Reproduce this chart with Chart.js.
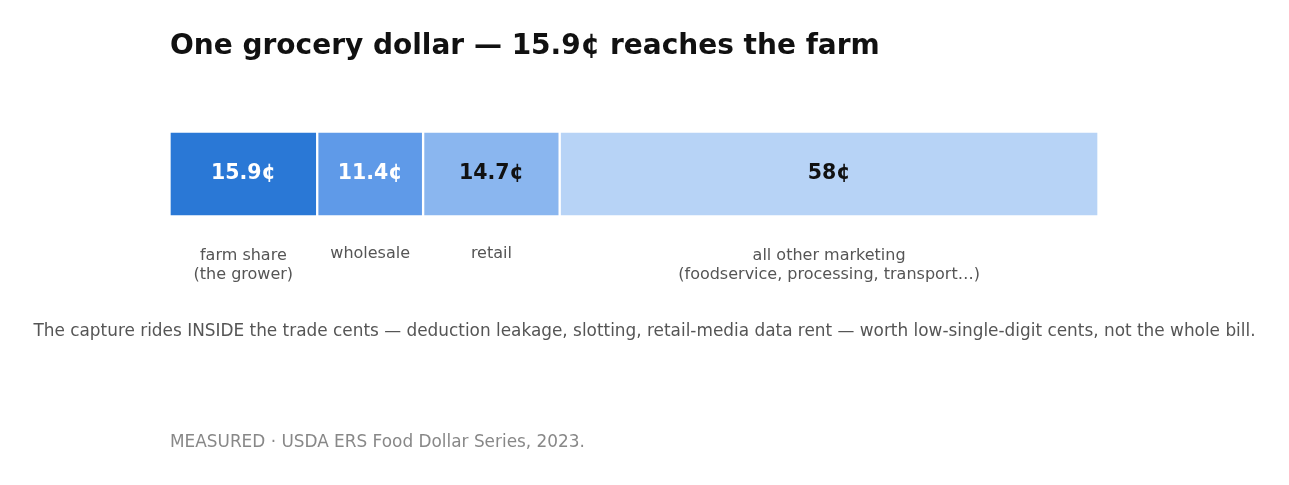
<!DOCTYPE html>
<html>
<head>
<meta charset="utf-8">
<script src="https://cdn.jsdelivr.net/npm/chart.js@4/dist/chart.umd.min.js"></script>
<style>
  html, body { margin: 0; padding: 0; background: #fff; }
  body { width: 1289px; height: 485px; position: relative; overflow: hidden; font-family: "DejaVu Sans", sans-serif; }
  #wrap { position: absolute; left: 0; top: 0; width: 1289px; height: 485px; }
  .title { position: absolute; left: 170px; top: 28px; font-size: 28px; font-weight: bold; color: #111; white-space: nowrap; }
  .caption { position: absolute; left: 0; width: 1289px; top: 320px; text-align: center; font-size: 16.9px; color: #555; white-space: nowrap; }
  .source { position: absolute; left: 170px; top: 431px; font-size: 16.9px; color: #888; white-space: nowrap; }
</style>
</head>
<body>
<div id="wrap"><canvas id="chart"></canvas></div>
<div class="title">One grocery dollar — 15.9¢ reaches the farm</div>
<div class="caption">The capture rides INSIDE the trade cents — deduction leakage, slotting, retail-media data rent — worth low-single-digit cents, not the whole bill.</div>
<div class="source">MEASURED · USDA ERS Food Dollar Series, 2023.</div>
<script>
// cents of one food dollar, 2023
const segments = ["farm share", "wholesale", "retail", "all other marketing"];
const cents = [15.9, 11.4, 14.7, 58];
const valueLabels = ["15.9¢", "11.4¢", "14.7¢", "58¢"];
const subLabels = [["farm share", "(the grower)"], ["wholesale"], ["retail"], ["all other marketing", "(foodservice, processing, transport…)"]];
const colors = ["#2a78d6", "#5f9ae8", "#8ab6ef", "#b7d3f6"];
const textColors = ["#ffffff", "#ffffff", "#111111", "#111111"];

// writes the cents inside each piece and the name under it
const segmentText = {
    id: "segmentText",
    afterDatasetsDraw(chart) {
        const ctx = chart.ctx;
        const bottom = chart.chartArea.bottom;
        ctx.save();
        ctx.textAlign = "center";
        ctx.textBaseline = "middle";
        chart.data.datasets.forEach((ds, i) => {
            const bar = chart.getDatasetMeta(i).data[0];
            const mid = (bar.x + bar.base) / 2;
            ctx.font = "bold 20.5px 'DejaVu Sans'";
            ctx.fillStyle = textColors[i];
            ctx.fillText(valueLabels[i], mid, bar.y);
            ctx.font = "16px 'DejaVu Sans'";
            ctx.fillStyle = "#555";
            // single-line names sit a little higher than the two-line ones
            const first = subLabels[i].length > 1 ? bottom + 39 : bottom + 37;
            subLabels[i].forEach((line, j) => ctx.fillText(line, mid, first + j * 19.5));
        });
        ctx.restore();
    }
};

new Chart(document.getElementById("chart"), {
    type: "bar",
    data: {
        labels: ["food dollar"],
        datasets: segments.map((name, i) => ({
            label: name,
            data: [cents[i]],
            backgroundColor: colors[i],
            borderColor: "#ffffff",
            borderWidth: 1.5,
            borderSkipped: false,
            barPercentage: 1,
            categoryPercentage: 1
        }))
    },
    options: {
        indexAxis: "y",
        responsive: true,
        maintainAspectRatio: false,
        animation: false,
        layout: { padding: { left: 169.5, right: 190.5, top: 131.5, bottom: 268.5 } },
        plugins: { legend: { display: false }, tooltip: { enabled: false }, title: { display: false } },
        scales: {
            x: { stacked: true, min: 0, max: 100, display: false },
            y: { stacked: true, display: false }
        }
    },
    plugins: [segmentText]
});
</script>
</body>
</html>
